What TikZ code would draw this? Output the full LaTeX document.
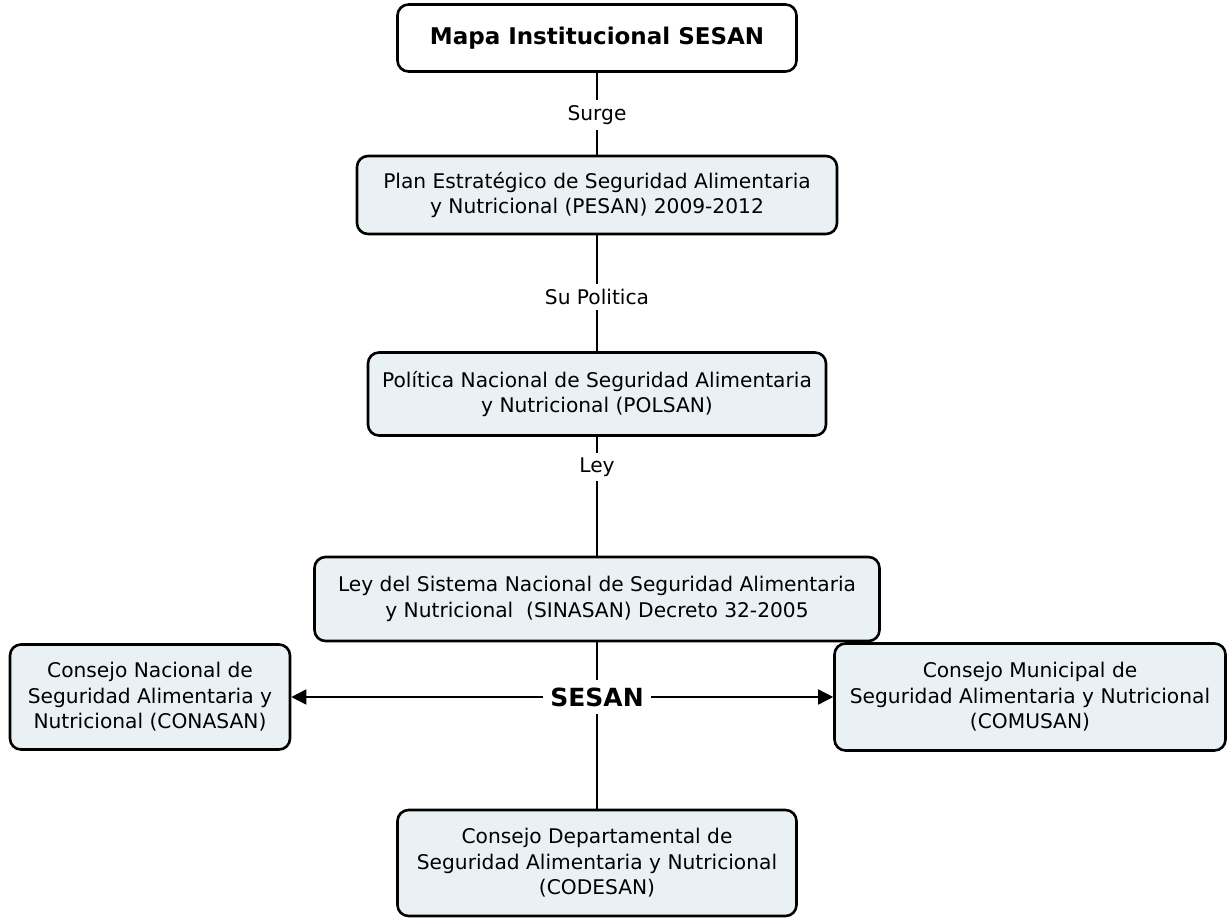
\documentclass[tikz,border=0pt]{standalone}
\usepackage{fontspec}
\setmainfont{DejaVu Sans}
\usetikzlibrary{arrows.meta,positioning}
\definecolor{boxfill}{HTML}{EAF1F5}

\begin{document}
\begin{tikzpicture}[x=1pt,y=-1pt,
	concept/.style={draw,line width=2.6pt,rounded corners=11pt,fill=boxfill,align=center,
		inner sep=0pt,font=\fontsize{20.2}{25.5}\selectfont},
	linking/.style={inner sep=5pt,font=\fontsize{20.2}{25}\selectfont},
	link/.style={line width=1.6pt}]

			\useasboundingbox (0,0) rectangle (1228,918);

			% main column
			\node[concept,fill=white,minimum width=399pt,minimum height=67pt,font=\fontsize{23}{25}\bfseries] (mapa) at (597,38) {Mapa Institucional SESAN};
			\node[linking] (surge) at (597,115) {Surge};
			\node[concept,minimum width=480pt,minimum height=78pt] (plan) at (597,195) {Plan Estratégico de Seguridad Alimentaria\\y Nutricional (PESAN) 2009-2012};
			\node[linking] (supol) at (597,297) {Su Politica};
			\node[concept,minimum width=458pt,minimum height=83pt] (polsan) at (597,394) {Política Nacional de Seguridad Alimentaria\\y Nutricional (POLSAN)};
			\node[linking,inner sep=4pt] (leylbl) at (597,467) {Ley};
			\node[concept,minimum width=565pt,minimum height=84pt] (sinasan) at (597,599) {Ley del Sistema Nacional de Seguridad Alimentaria\\y Nutricional\ \ (SINASAN) Decreto 32-2005};
			\node[inner sep=7pt,font=\fontsize{25}{25}\bfseries] (sesan) at (597,697) {SESAN};

			% consejos
			\node[concept,minimum width=280pt,minimum height=105pt] (conasan) at (150,697) {Consejo Nacional de\\Seguridad Alimentaria y\\Nutricional (CONASAN)};
			\node[concept,minimum width=391pt,minimum height=107pt] (comusan) at (1030,697) {Consejo Municipal de\\Seguridad Alimentaria y Nutricional\\(COMUSAN)};
			\node[concept,minimum width=399pt,minimum height=106pt] (codesan) at (597,863) {Consejo Departamental de\\Seguridad Alimentaria y Nutricional\\(CODESAN)};

			\draw[link] (mapa) -- (surge) -- (plan);
			\draw[link] (plan) -- (supol) -- (polsan);
			\draw[link] (polsan) -- (leylbl) -- (sinasan);
			\draw[link] (sinasan) -- (sesan) -- (codesan);
			\draw[link,-{Triangle[length=15pt,width=15pt]}] (sesan) -- (conasan);
			\draw[link,-{Triangle[length=15pt,width=15pt]}] (sesan) -- (comusan);

		\end{tikzpicture}
\end{document}
